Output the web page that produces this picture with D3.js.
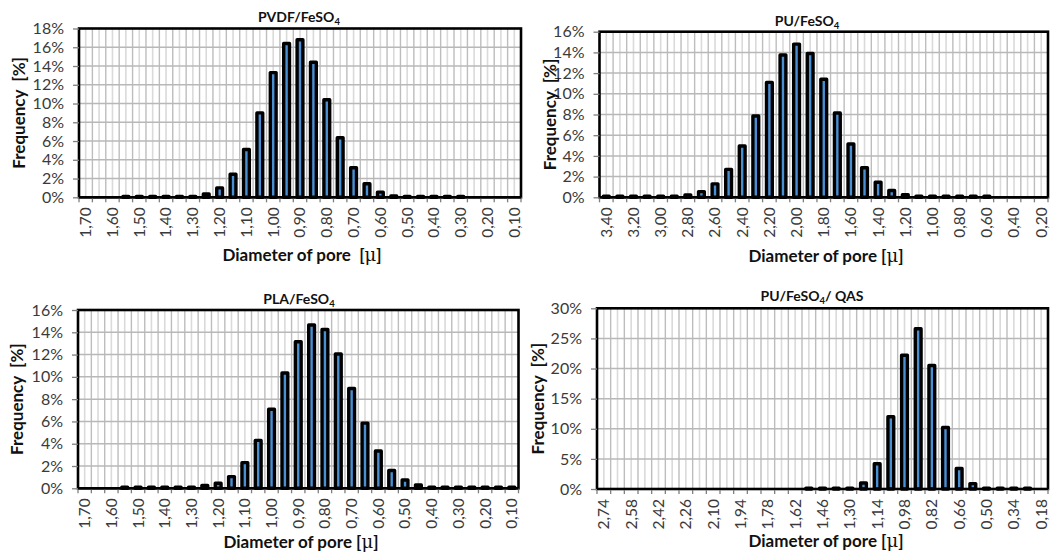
<!DOCTYPE html>
<html>
<head>
<meta charset="utf-8">
<script src="https://cdn.jsdelivr.net/npm/d3@7"></script>
<style>
  html, body { margin: 0; padding: 0; background: #fff; }
  svg { display: block; font-family: "Lato", "Open Sans", sans-serif; }
  text { white-space: pre; }
</style>
</head>
<body>
<svg id="chart" width="1051" height="560"></svg>
<script>
// Pore-diameter distributions (frequency, %) for four membrane types.

const pvdfDiameters = ["1,70","1,65","1,60","1,55","1,50","1,45","1,40","1,35","1,30","1,25","1,20",
  "1,15","1,10","1,05","1,00","0,95","0,90","0,85","0,80","0,75","0,70","0,65","0,60","0,55",
  "0,50","0,45","0,40","0,35","0,30","0,25","0,20","0,15","0,10"];
const pvdfFrequency = [0,0,0,0.1,0.1,0.1,0.1,0.1,0.1,0.35,1.0,
  2.45,5.1,9.0,13.3,16.4,16.8,14.4,10.4,6.35,3.15,1.45,0.55,0.15,
  0.1,0.1,0.1,0.1,0.1,0,0,0,0];

const puDiameters = ["3,40","3,30","3,20","3,10","3,00","2,90","2,80","2,70","2,60","2,50","2,40",
  "2,30","2,20","2,10","2,00","1,90","1,80","1,70","1,60","1,50","1,40","1,30","1,20","1,10",
  "1,00","0,90","0,80","0,70","0,60","0,50","0,40","0,30","0,20"];
const puFrequency = [0.1,0.1,0.1,0.1,0.1,0.1,0.22,0.55,1.3,2.7,4.95,
  7.85,11.1,13.75,14.8,13.9,11.4,8.15,5.15,2.85,1.45,0.65,0.25,0.1,
  0.1,0.1,0.1,0.1,0.1,0,0,0,0];

const plaDiameters = ["1,70","1,65","1,60","1,55","1,50","1,45","1,40","1,35","1,30","1,25","1,20",
  "1,15","1,10","1,05","1,00","0,95","0,90","0,85","0,80","0,75","0,70","0,65","0,60","0,55",
  "0,50","0,45","0,40","0,35","0,30","0,25","0,20","0,15","0,10"];
const plaFrequency = [0,0,0,0.1,0.1,0.1,0.1,0.1,0.1,0.25,0.45,
  1.05,2.3,4.3,7.1,10.35,13.15,14.65,14.25,12.05,8.95,5.85,3.35,1.6,
  0.75,0.3,0.1,0.1,0.1,0.1,0.1,0.1,0.1];

const qasDiameters = ["2,74","2,66","2,58","2,50","2,42","2,34","2,26","2,18","2,10","2,02","1,94",
  "1,86","1,78","1,70","1,62","1,54","1,46","1,38","1,30","1,22","1,14","1,06","0,98","0,90",
  "0,82","0,74","0,66","0,58","0,50","0,42","0,34","0,26","0,18"];
const qasFrequency = [0,0,0,0,0,0,0,0,0,0,0,
  0,0,0,0,0.15,0.15,0.15,0.15,1.0,4.2,12.0,22.2,26.6,
  20.5,10.2,3.4,0.9,0.15,0.15,0.15,0.15,0];

const ticks18 = [0,2,4,6,8,10,12,14,16,18];
const ticks16 = [0,2,4,6,8,10,12,14,16];
const ticks30 = [0,5,10,15,20,25,30];

const svg = d3.select("#chart");

const panels = [
  { cats: pvdfDiameters, vals: pvdfFrequency, yTicks: ticks18,
    title: ["PVDF/FeSO", "4", ""], xTitle: "Diameter of pore  [", yTitle: "Frequency  [%]",
    left: 79, right: 521, top: 28.5, bottom: 197.3,
    titleX: 299, titleY: 22, xTitleX: 302, xTitleY: 261, yTitleX: 24.5 },
  { cats: puDiameters, vals: puFrequency, yTicks: ticks16,
    title: ["PU/FeSO", "4", ""], xTitle: "Diameter of pore [", yTitle: "Frequency  [%]",
    left: 599.5, right: 1048, top: 31.7, bottom: 197.3,
    titleX: 807, titleY: 25.5, xTitleX: 826, xTitleY: 262, yTitleX: 556 },
  { cats: plaDiameters, vals: plaFrequency, yTicks: ticks16,
    title: ["PLA/FeSO", "4", ""], xTitle: "Diameter of pore [", yTitle: "Frequency  [%]",
    left: 78, right: 518.5, top: 310, bottom: 488.3,
    titleX: 299, titleY: 303.5, xTitleX: 301, xTitleY: 548, yTitleX: 23 },
  { cats: qasDiameters, vals: qasFrequency, yTicks: ticks30,
    title: ["PU/FeSO", "4", "/ QAS"], xTitle: "Diameter of pore [", yTitle: "Frequency  [%]",
    left: 597, right: 1048, top: 308.3, bottom: 489,
    titleX: 812, titleY: 301, xTitleX: 826, xTitleY: 547, yTitleX: 544 }
];

function drawPanel(p) {
  const g = svg.append("g");
  const x = d3.scaleBand().domain(p.cats).range([p.left, p.right]).padding(0);
  const yMax = p.yTicks[p.yTicks.length - 1];
  const y = d3.scaleLinear().domain([0, yMax]).range([p.bottom, p.top]);
  const bw = x.bandwidth();

  // vertical grid: light lines at category centres, darker at boundaries
  g.append("g").selectAll("line").data(p.cats).join("line")
    .attr("x1", d => x(d) + bw / 2).attr("x2", d => x(d) + bw / 2)
    .attr("y1", p.top).attr("y2", p.bottom)
    .attr("stroke", "#dadada").attr("stroke-width", 1.6);
  g.append("g").selectAll("line").data(p.cats.slice(1)).join("line")
    .attr("x1", d => x(d)).attr("x2", d => x(d))
    .attr("y1", p.top).attr("y2", p.bottom)
    .attr("stroke", "#bdbdbd").attr("stroke-width", 1.4);

  // horizontal grid
  g.append("g").selectAll("line").data(p.yTicks.slice(1, -1)).join("line")
    .attr("x1", p.left).attr("x2", p.right)
    .attr("y1", d => y(d)).attr("y2", d => y(d))
    .attr("stroke", "#b8b8b8").attr("stroke-width", 1.5);

  // bars
  const barW = 5.8;
  g.append("g").selectAll("rect")
    .data(p.cats.map((c, i) => ({ c, v: p.vals[i] })).filter(d => d.v > 0))
    .join("rect")
    .attr("x", d => x(d.c) + bw / 2 - barW / 2)
    .attr("width", barW)
    .attr("y", d => y(d.v))
    .attr("height", d => y(0) - y(d.v))
    .attr("fill", "#4a8fd2")
    .attr("stroke", "#000")
    .attr("stroke-width", 3.4)
    .attr("stroke-linejoin", "round");

  // plot frame
  g.append("rect")
    .attr("x", p.left).attr("y", p.top)
    .attr("width", p.right - p.left).attr("height", p.bottom - p.top)
    .attr("fill", "none").attr("stroke", "#000").attr("stroke-width", 2.6);

  // y axis
  const yAxis = d3.axisLeft(y).tickValues(p.yTicks).tickFormat(d => d + "%")
    .tickSize(6).tickPadding(9);
  const ya = g.append("g").attr("transform", `translate(${p.left},0)`).call(yAxis);
  ya.select(".domain").remove();
  ya.selectAll(".tick line").attr("stroke", "#7f7f7f").attr("stroke-width", 1.3);
  ya.selectAll(".tick text").attr("font-size", 16).attr("fill", "#3a3a3a")
    .attr("font-family", "Lato, sans-serif");

  // x axis: a tick at every category boundary, labels on every other category
  const xb = g.append("g");
  const bounds = p.cats.map(c => x(c)).concat([p.right]);
  xb.selectAll("line").data(bounds).join("line")
    .attr("x1", d => d).attr("x2", d => d)
    .attr("y1", p.bottom).attr("y2", p.bottom + 5)
    .attr("stroke", "#7f7f7f").attr("stroke-width", 1.3);
  xb.selectAll("text").data(p.cats.filter((c, i) => i % 2 === 0)).join("text")
    .attr("transform", d => `translate(${x(d) + bw / 2},${p.bottom + 10}) rotate(-90)`)
    .attr("text-anchor", "end")
    .attr("dy", "0.35em")
    .attr("font-size", 15.5).attr("fill", "#3a3a3a")
    .text(d => d);
  g.append("line")
    .attr("x1", p.left).attr("x2", p.right)
    .attr("y1", p.bottom).attr("y2", p.bottom)
    .attr("stroke", "#000").attr("stroke-width", 2.2);

  // panel title with subscript
  const t = g.append("text")
    .attr("x", p.titleX).attr("y", p.titleY)
    .attr("text-anchor", "middle")
    .attr("font-size", 14).attr("font-weight", "bold").attr("fill", "#111");
  t.append("tspan").text(p.title[0]);
  t.append("tspan").attr("font-size", 9.5).attr("dy", 3).text(p.title[1]);
  t.append("tspan").attr("dy", -3).text(p.title[2]);

  // x axis title
  const xt = g.append("text")
    .attr("x", p.xTitleX).attr("y", p.xTitleY)
    .attr("text-anchor", "middle")
    .attr("font-size", 17).attr("font-weight", "bold").attr("fill", "#111");
  xt.append("tspan").text(p.xTitle);
  xt.append("tspan").attr("font-family", "DejaVu Serif, serif").attr("font-weight", "normal")
    .attr("font-size", 18).text("\u03bc");
  xt.append("tspan").text("]");

  // y axis title
  g.append("text")
    .attr("transform", `translate(${p.yTitleX},${(p.top + p.bottom) / 2}) rotate(-90)`)
    .attr("text-anchor", "middle")
    .attr("font-size", 17).attr("font-weight", "bold").attr("fill", "#111")
    .text(p.yTitle);
}

panels.forEach(drawPanel);
</script>
</body>
</html>
